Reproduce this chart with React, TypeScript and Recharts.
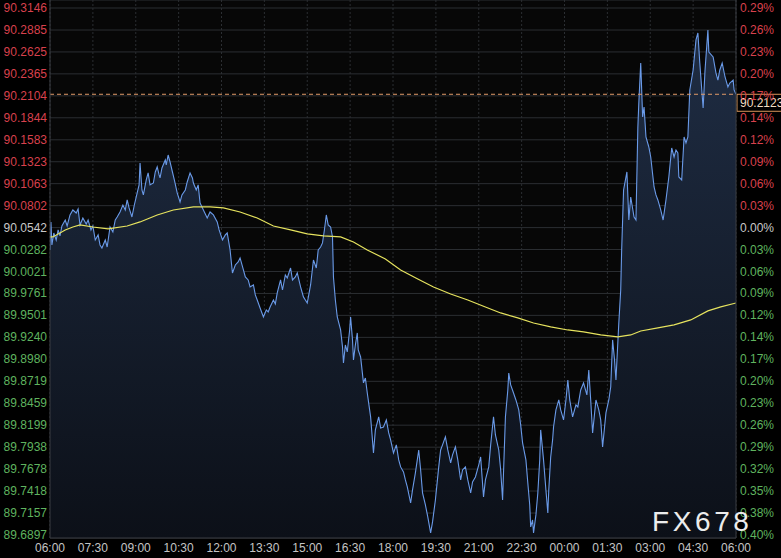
import React from 'react';
import { ComposedChart, Area, Line, XAxis, YAxis, CartesianGrid, ReferenceLine } from 'recharts';

const timeTicks = [0, 90, 180, 270, 360, 450, 540, 630, 720, 810, 900, 990, 1080, 1170, 1260, 1350, 1440];
const timeLabels = ['06:00', '07:30', '09:00', '10:30', '12:00', '13:30', '15:00', '16:30', '18:00', '19:30', '21:00', '22:30', '00:00', '01:30', '03:00', '04:30', '06:00'];

const priceTicks = [
  90.3146, 90.2885, 90.2625, 90.2365, 90.2104, 90.1844, 90.1583, 90.1323, 90.1063, 90.0802,
  90.0542, 90.0282, 90.0021, 89.9761, 89.9501, 89.924, 89.898, 89.8719, 89.8459, 89.8199,
  89.7938, 89.7678, 89.7418, 89.7157, 89.6897,
];
const pctLabels = [
  '0.29%', '0.26%', '0.23%', '0.20%', '0.17%', '0.14%', '0.12%', '0.09%', '0.06%', '0.03%',
  '0.00%', '0.03%', '0.06%', '0.09%', '0.12%', '0.14%', '0.17%', '0.20%', '0.23%', '0.26%',
  '0.29%', '0.32%', '0.35%', '0.38%', '0.40%',
];
const baseClose = 90.0542;
const lastPrice = 90.2123;
const yDomain = [89.6861, 90.3241];

const priceTimes = [
  0, 2, 4, 8, 13, 17, 21, 25, 32, 36, 42, 48, 55, 59, 63, 69, 76, 80, 86, 90,
  95, 101, 105, 109, 116, 120, 126, 132, 137, 141, 147, 153, 158, 162, 166, 172, 177, 183, 187, 189,
  193, 196, 202, 206, 210, 217, 221, 225, 229, 231, 235, 242, 244, 248, 252, 256, 261, 267, 273, 277,
  284, 288, 294, 299, 301, 307, 311, 315, 322, 330, 336, 343, 351, 355, 362, 368, 372, 378, 383, 389,
  395, 399, 406, 410, 416, 420, 427, 431, 435, 441, 448, 454, 458, 462, 469, 473, 477, 484, 488, 494,
  498, 505, 509, 515, 519, 526, 532, 536, 540, 547, 553, 559, 563, 568, 572, 576, 580, 584, 589, 593,
  595, 599, 603, 610, 614, 616, 620, 624, 629, 631, 635, 637, 641, 645, 647, 652, 658, 662, 666, 673,
  679, 683, 690, 694, 700, 706, 711, 715, 721, 727, 732, 736, 742, 746, 750, 757, 761, 767, 774, 778,
  782, 788, 793, 799, 803, 809, 816, 820, 824, 830, 835, 841, 845, 851, 856, 862, 866, 872, 877, 883,
  887, 893, 900, 904, 910, 914, 921, 925, 931, 935, 942, 946, 950, 956, 961, 963, 967, 973, 978, 984,
  988, 992, 999, 1003, 1007, 1009, 1013, 1015, 1020, 1024, 1028, 1030, 1036, 1041, 1045, 1047, 1051, 1055, 1057, 1062,
  1068, 1072, 1078, 1083, 1087, 1091, 1097, 1104, 1108, 1114, 1120, 1127, 1131, 1135, 1139, 1146, 1152, 1156, 1160, 1167,
  1173, 1177, 1181, 1185, 1188, 1194, 1198, 1200, 1204, 1211, 1215, 1219, 1226, 1230, 1234, 1236, 1240, 1244, 1247, 1251,
  1257, 1261, 1268, 1272, 1276, 1282, 1287, 1293, 1299, 1305, 1310, 1314, 1318, 1320, 1326, 1331, 1335, 1339, 1343, 1350,
  1356, 1360, 1364, 1371, 1375, 1381, 1383, 1392, 1398, 1402, 1406, 1411, 1417, 1423, 1427, 1434, 1436, 1440,
];
const prices = [
  90.0277, 90.0609, 90.0336, 90.0478, 90.0395, 90.0514, 90.0443, 90.0561, 90.0632, 90.0561, 90.0692, 90.0751, 90.0715, 90.0763, 90.0573, 90.0656, 90.0585, 90.0632, 90.0514, 90.0561,
  90.0395, 90.0455, 90.0336, 90.03, 90.0395, 90.0312, 90.0549, 90.049, 90.0632, 90.0668, 90.0727, 90.081, 90.0751, 90.087, 90.0775, 90.0668, 90.081, 90.0953, 90.1048, 90.1308,
  90.0988, 90.0929, 90.1107, 90.119, 90.1048, 90.1071, 90.1202, 90.1261, 90.1166, 90.1131, 90.1249, 90.1344, 90.1285, 90.1403, 90.132, 90.1225, 90.1107, 90.0953, 90.0846, 90.0929,
  90.0988, 90.1083, 90.119, 90.1131, 90.1071, 90.0988, 90.1048, 90.0834, 90.0751, 90.0656, 90.0727, 90.0692, 90.0609, 90.0514, 90.0395, 90.0455, 90.0478, 90.0277, 90.0004, 90.0099,
  90.0134, 90.0182, 90.004, 89.9957, 89.9921, 89.9838, 89.9862, 89.9743, 89.9684, 89.9589, 89.9482, 89.9565, 89.9542, 89.9601, 89.9684, 89.9637, 89.9767, 89.9921, 89.9802, 89.998,
  89.9945, 90.0063, 89.9921, 89.9957, 90.0004, 89.9838, 89.972, 89.9684, 89.9648, 89.9862, 90.0158, 90.0063, 90.0277, 90.0312, 90.036, 90.0514, 90.0692, 90.0573, 90.0549, 90.0431,
  89.9957, 89.9684, 89.9482, 89.9328, 89.9127, 89.8937, 89.915, 89.9067, 89.9328, 89.9482, 89.921, 89.8973, 89.915, 89.9293, 89.9091, 89.9008, 89.87, 89.8759, 89.8581, 89.8297,
  89.787, 89.8143, 89.8297, 89.8166, 89.8178, 89.8261, 89.8107, 89.8024, 89.787, 89.7965, 89.7787, 89.7704, 89.7644, 89.755, 89.7467, 89.7277, 89.7431, 89.7633, 89.7905, 89.7668,
  89.7395, 89.7253, 89.7111, 89.6921, 89.7052, 89.7312, 89.7704, 89.7905, 89.7965, 89.806, 89.7905, 89.7751, 89.7846, 89.7941, 89.7787, 89.755, 89.7668, 89.7704, 89.755, 89.7395,
  89.7526, 89.7585, 89.7727, 89.7822, 89.7348, 89.755, 89.7704, 89.7965, 89.8297, 89.8083, 89.7905, 89.7668, 89.7312, 89.8297, 89.8617, 89.8818, 89.8676, 89.8581, 89.8498, 89.838,
  89.8202, 89.7988, 89.7787, 89.7514, 89.7253, 89.6992, 89.7075, 89.6921, 89.7135, 89.7395, 89.7787, 89.8143, 89.7787, 89.7431, 89.7158, 89.7431, 89.7822, 89.8024, 89.8178, 89.838,
  89.8498, 89.838, 89.8261, 89.8498, 89.8735, 89.8498, 89.8297, 89.8439, 89.8415, 89.8617, 89.87, 89.8558, 89.8854, 89.8498, 89.8107, 89.8498, 89.838, 89.8261, 89.7941, 89.8344,
  89.8498, 89.8652, 89.921, 89.8973, 89.8735, 89.9411, 89.9802, 90.0277, 90.0988, 90.1202, 90.0632, 90.0905, 90.0668, 90.0632, 90.1735, 90.202, 90.2494, 90.1854, 90.1972, 90.1617,
  90.1498, 90.1379, 90.1024, 90.0929, 90.087, 90.0751, 90.0632, 90.087, 90.1142, 90.1486, 90.1379, 90.1462, 90.1427, 90.1142, 90.1107, 90.1617, 90.1545, 90.1617, 90.2174, 90.2411,
  90.2767, 90.285, 90.2494, 90.196, 90.2411, 90.2885, 90.2624, 90.2565, 90.2375, 90.2292, 90.2411, 90.2494, 90.2328, 90.2209, 90.2257, 90.2292, 90.2174, 90.2123,
];

const maTimes = [
  0, 6, 32, 48, 63, 90, 122, 162, 189, 225, 259, 301, 336, 364, 399, 435, 469, 505, 540, 574,
  610, 637, 666, 704, 736, 772, 805, 841, 877, 914, 946, 982, 1015, 1051, 1087, 1120, 1156, 1192, 1219, 1240,
  1276, 1310, 1345, 1381, 1408, 1440,
];
const maValues = [
  90.0431, 90.0431, 90.0514, 90.0549, 90.0573, 90.0549, 90.0526, 90.0561, 90.0609, 90.0692, 90.0751, 90.0787, 90.0787, 90.0775, 90.0727, 90.0656, 90.0561, 90.0514, 90.0467, 90.0443,
  90.0431, 90.0372, 90.0277, 90.017, 90.004, 89.9933, 89.9838, 89.9755, 89.9684, 89.9601, 89.953, 89.9471, 89.9411, 89.9364, 89.9328, 89.9305, 89.9269, 89.9245, 89.9269, 89.9316,
  89.9352, 89.9388, 89.9447, 89.9554, 89.9601, 89.9648,
];

type Row = { t: number; price?: number; ma?: number };

const rows: Row[] = (() => {
  const m = new Map<number, Row>();
  priceTimes.forEach((t, i) => m.set(t, { t, price: prices[i] }));
  maTimes.forEach((t, i) => {
    const r = m.get(t) || { t };
    r.ma = maValues[i];
    m.set(t, r);
  });
  return Array.from(m.values()).sort((a, b) => a.t - b.t);
})();

const FONT = '"Liberation Sans", Arial, sans-serif';

const colorFor = (v: number) => {
  if (Math.abs(v - baseClose) < 1e-6) return '#c8c8c8';
  return v > baseClose ? '#d8414d' : '#5fb35f';
};

const LeftTick = (props: any) => {
  const { x, y, payload } = props;
  const v = payload.value as number;
  return (
    <text x={x - 3} y={y + 4} textAnchor="end" fill={colorFor(v)} fontSize={12} fontFamily={FONT}>
      {v.toFixed(4)}
    </text>
  );
};

const RightTick = (props: any) => {
  const { x, y, payload } = props;
  const v = payload.value as number;
  const idx = priceTicks.findIndex((p) => Math.abs(p - v) < 1e-6);
  return (
    <text x={x + 4} y={y + 4} textAnchor="start" fill={colorFor(v)} fontSize={12} fontFamily={FONT}>
      {idx >= 0 ? pctLabels[idx] : ''}
    </text>
  );
};

const TimeTick = (props: any) => {
  const { x, y, payload } = props;
  const idx = timeTicks.indexOf(payload.value);
  return (
    <text x={x} y={y + 14} textAnchor="middle" fill="#c4c4c4" fontSize={12} fontFamily={FONT}>
      {idx >= 0 ? timeLabels[idx] : ''}
    </text>
  );
};

const PriceTag = (props: any) => {
  const vb = props.viewBox || {};
  const x0 = (vb.x || 0) + (vb.width || 0) + 1;
  const y0 = vb.y || 0;
  return (
    <g>
      <rect x={x0} y={y0} width={52} height={17} fill="#000" stroke="#d9955a" strokeWidth={1} />
      <text x={x0 + 3} y={y0 + 13} fill="#f1dfc2" fontSize={12} fontFamily={FONT}>
        {lastPrice.toFixed(4)}
      </text>
    </g>
  );
};

export default function App() {
  return (
    <div
      style={{
        position: 'absolute',
        left: 0,
        top: 0,
        width: 781,
        height: 558,
        background: '#000',
        overflow: 'hidden',
      }}
    >
      <ComposedChart width={781} height={558} data={rows} margin={{ top: 0, right: 0, bottom: 0, left: 0 }}>
        <defs>
          <linearGradient id="areaFill" x1="0" y1="0" x2="0" y2="1">
            <stop offset="0%" stopColor="#1f2d44" stopOpacity={1} />
            <stop offset="100%" stopColor="#0c1018" stopOpacity={1} />
          </linearGradient>
        </defs>
        <CartesianGrid yAxisId="l" vertical={false} stroke="#2b2e32" fill="#070707" />
        <CartesianGrid yAxisId="l" horizontal={false} stroke="#2b2e32" strokeDasharray="2 2" />
        <XAxis
          dataKey="t"
          type="number"
          domain={[0, 1440]}
          ticks={timeTicks}
          interval={0}
          height={20}
          tickLine={false}
          tickSize={0}
          tickMargin={0}
          axisLine={{ stroke: '#3a3d42' }}
          tick={<TimeTick />}
          allowDataOverflow
        />
        <YAxis
          yAxisId="l"
          orientation="left"
          width={50}
          type="number"
          domain={yDomain}
          ticks={priceTicks}
          interval={0}
          tickLine={false}
          tickSize={0}
          tickMargin={0}
          axisLine={{ stroke: '#3a3d42' }}
          tick={<LeftTick />}
          allowDataOverflow
        />
        <YAxis
          yAxisId="r"
          orientation="right"
          width={45}
          type="number"
          domain={yDomain}
          ticks={priceTicks}
          interval={0}
          tickLine={false}
          tickSize={0}
          tickMargin={0}
          axisLine={{ stroke: '#3a3d42' }}
          tick={<RightTick />}
          allowDataOverflow
        />
        <Area
          yAxisId="l"
          type="linear"
          dataKey="price"
          stroke="#6a9ae8"
          strokeWidth={1.1}
          fill="url(#areaFill)"
          fillOpacity={1}
          connectNulls
          dot={false}
          activeDot={false}
          isAnimationActive={false}
        />
        <Line
          yAxisId="l"
          type="linear"
          dataKey="ma"
          stroke="#e6e35e"
          strokeWidth={1.2}
          connectNulls
          dot={false}
          activeDot={false}
          isAnimationActive={false}
        />
        <ReferenceLine
          yAxisId="l"
          y={lastPrice}
          stroke="#e09a68"
          strokeDasharray="4 3"
          label={(p: any) => <PriceTag {...p} />}
        />
      </ComposedChart>
      <div
        style={{
          position: 'absolute',
          left: 652,
          top: 508,
          fontSize: 28,
          lineHeight: '28px',
          letterSpacing: 3.6,
          color: '#ececec',
          fontFamily: FONT,
          whiteSpace: 'nowrap',
        }}
      >
        FX678
      </div>
    </div>
  );
}
